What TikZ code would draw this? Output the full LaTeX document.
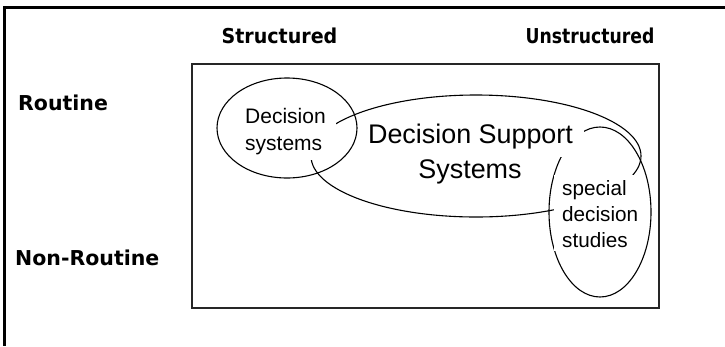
\documentclass[tikz,border=0pt]{standalone}
\usepackage{fontspec}
\setmainfont{Liberation Sans}
\newfontfamily\hdrfont{DejaVu Sans}
\begin{document}
\begin{tikzpicture}[x=1pt,y=-1pt,
  hdr/.style={font=\hdrfont\bfseries\fontsize{20.5}{24}\selectfont, inner sep=0pt},
  dstxt/.style={font=\fontsize{21}{25}\selectfont, inner sep=0pt, anchor=base west},
  dsstxt/.style={font=\fontsize{26.9}{32}\selectfont, inner sep=0pt, anchor=base},
  sptxt/.style={font=\fontsize{20.7}{25}\selectfont, inner sep=0pt, anchor=base west},
  oval/.style={draw=black, line width=1.1pt},
  mask/.style={fill=white},
  frameline/.style={draw=black, line width=2.2pt},
  region/.style={draw=black!85, line width=1.8pt}
]
\useasboundingbox (0,0) rectangle (725,346);
\fill[white] (0,0) rectangle (725,346);
% outer frame (only top and left edges visible)
\coordinate (ftr) at (725,7.5);
\coordinate (ftl) at (4.5,7.5);
\coordinate (fbl) at (4.5,346);
\draw[frameline] (ftr) -- (ftl) -- (fbl);
% headers
\node[hdr, anchor=base] (structured) at (279.5,43) {\scalebox{0.93}[1]{Structured}};
\node[hdr, anchor=base] (unstructured) at (590,43) {\scalebox{0.84}[1]{Unstructured}};
\node[hdr, anchor=base west] (routine) at (18,110) {Routine};
\node[hdr, anchor=base west] (nonroutine) at (15,265) {Non-Routine};
% inner region
\draw[region] (192,64) rectangle (659,308);
% ellipses
\draw[oval] (287,128) ellipse [x radius=70, y radius=50];
\draw[oval] (476,156) ellipse [x radius=165, y radius=61];
\draw[oval] (600,212) ellipse [x radius=51, y radius=85];
% white text backgrounds
\fill[mask] (241,103) rectangle (336,160);
\fill[mask] (364,118) rectangle (584,157);
\fill[mask] (554,175) rectangle (642,251);
% texts
\node[dstxt] (ds1) at (245,123) {Decision};
\node[dstxt] (ds2) at (245,150) {systems};
\node[dsstxt] (dss1) at (470.5,143) {Decision Support};
\node[dsstxt] (dss2) at (470,178) {Systems};
\node[sptxt] (sp1) at (562,195) {special};
\node[sptxt] (sp2) at (562,221) {decision};
\node[sptxt] (sp3) at (562,247) {studies};
\end{tikzpicture}
\end{document}
